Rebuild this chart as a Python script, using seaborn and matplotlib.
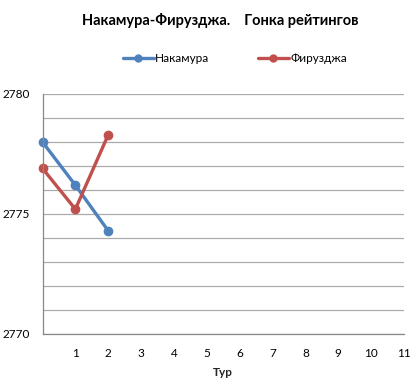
import matplotlib
matplotlib.use("Agg")
import matplotlib.pyplot as plt
import seaborn as sns
import pandas as pd

rounds = [0, 1, 2]
nakamura = [2778.0, 2776.2, 2774.3]
firouzja = [2776.9, 2775.2, 2778.3]
players = ["Накамура", "Фирузджа"]
colors = ["#4F81BD", "#C0504D"]
x_ticks = list(range(1, 12))
y_ticks = [2770, 2775, 2780]

df = pd.DataFrame({
    "Тур": rounds * 2,
    "Рейтинг": nakamura + firouzja,
    "Игрок": [players[0]] * len(rounds) + [players[1]] * len(rounds),
})

sns.set_style("white")
plt.rcParams["font.family"] = ["Lato", "DejaVu Sans"]
plt.rcParams["text.color"] = "black"
plt.rcParams["xtick.color"] = "black"
plt.rcParams["ytick.color"] = "black"

fig = plt.figure(figsize=(4.15, 3.84), dpi=100)
ax = fig.add_axes([42.5 / 415, 1 - 334 / 384, (404 - 42.5) / 415, (334 - 94) / 384])

sns.lineplot(data=df, x="Тур", y="Рейтинг", hue="Игрок", palette=colors,
             marker="o", markersize=7, markeredgewidth=0, linewidth=2.4,
             ax=ax, legend=False)
for line in ax.lines:
    line.set_clip_on(False)

ax.set_xlim(0, 11)
ax.set_ylim(2770, 2780)
ax.set_xticks(range(0, 12))
ax.set_xticklabels([""] + [str(t) for t in x_ticks], fontsize=8.5)
ax.set_yticks(range(2770, 2781))
ax.set_yticklabels([str(v) if v in y_ticks else "" for v in range(2770, 2781)], fontsize=8.5)
ax.tick_params(axis="x", length=4, width=0.8, color="#888888", direction="out", pad=6)
ax.tick_params(axis="y", length=0, pad=9)
ax.grid(axis="y", color="#ABABAB", linewidth=0.9)
ax.set_axisbelow(True)
for side in ("top", "right"):
    ax.spines[side].set_visible(False)
for side in ("left", "bottom"):
    ax.spines[side].set_color("#888888")
    ax.spines[side].set_linewidth(0.9)

ax.set_xlabel("Тур", fontsize=8.5, fontweight="bold", labelpad=6)
ax.set_ylabel("")

fig.text(220 / 415, 1 - 20 / 384, "Накамура-Фирузджа.    Гонка рейтингов",
         ha="center", va="center", fontsize=10.5, fontweight="bold")

handles = [plt.Line2D([], [], color=c, marker="o", markersize=6, markeredgewidth=0,
                      linewidth=2.4) for c in colors]
fig.legend(handles, players, loc="center", bbox_to_anchor=(235 / 415, 1 - 59 / 384),
           ncol=2, frameon=False, fontsize=8.5, handlelength=2.6,
           columnspacing=4.1, handletextpad=0.15)

fig.savefig("out.png", dpi=100, facecolor="white")
